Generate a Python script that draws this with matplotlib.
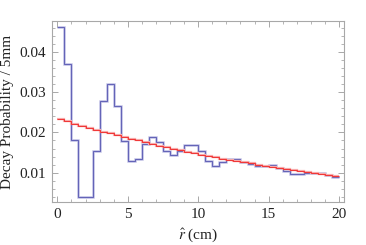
import numpy as np
import matplotlib.pyplot as plt
from matplotlib.ticker import MultipleLocator

# bin edges in cm (5 mm bins)
bin_edges = [i * 0.5 for i in range(41)]

# measured decay probability per bin (blue)
measured = [0.0463, 0.0370, 0.0182, 0.0040, 0.0040, 0.0155, 0.0278, 0.0320,
            0.0266, 0.0178, 0.0130, 0.0134, 0.0171, 0.0189, 0.0175, 0.0153,
            0.0145, 0.0155, 0.0168, 0.0168, 0.0153, 0.0129, 0.0117, 0.0126,
            0.0134, 0.0134, 0.0127, 0.0121, 0.0117, 0.0117, 0.0118, 0.0111,
            0.0105, 0.0097, 0.0097, 0.0100, 0.0100, 0.0100, 0.0094, 0.0089]

# expected decay probability per bin (red)
expected = [0.0234, 0.0229, 0.0222, 0.0217, 0.0212, 0.0207, 0.0202, 0.0198,
            0.0193, 0.0188, 0.0184, 0.0180, 0.0175, 0.0171, 0.0167, 0.0163,
            0.0160, 0.0156, 0.0152, 0.0149, 0.0145, 0.0142, 0.0139, 0.0135,
            0.0132, 0.0129, 0.0126, 0.0123, 0.0120, 0.0117, 0.0115, 0.0112,
            0.0109, 0.0107, 0.0104, 0.0102, 0.0100, 0.0097, 0.0095, 0.0092]

plt.rcParams['font.family'] = ['Liberation Serif', 'DejaVu Serif']
plt.rcParams['mathtext.fontset'] = 'stix'

fig = plt.figure(figsize=(3.66, 2.45), dpi=100)
ax = fig.add_axes([0.142, 0.1755, 0.798, 0.7385])

ax.stairs(measured, bin_edges, baseline=None, color='#c4c4e6', lw=1.8)
ax.stairs(measured, bin_edges, baseline=None, color='#6464b8', lw=0.8)
ax.stairs(expected, bin_edges, baseline=None, color='#f8b0b0', lw=1.6)
ax.stairs(expected, bin_edges, baseline=None, color='#f03838', lw=0.8)

ax.set_xlim(-0.38, 20.35)
ax.set_ylim(0.0027, 0.0477)

ax.xaxis.set_major_locator(MultipleLocator(5))
ax.xaxis.set_minor_locator(MultipleLocator(1))
ax.yaxis.set_major_locator(MultipleLocator(0.01))
ax.yaxis.set_minor_locator(MultipleLocator(0.002))
ax.set_yticks([0.01, 0.02, 0.03, 0.04])
ax.set_yticklabels(['0.01', '0.02', '0.03', '0.04'])

for s in ax.spines.values():
    s.set_color('#a8a8a8')
    s.set_linewidth(0.8)
ax.tick_params(which='both', direction='in', top=True, right=True,
               color='#a8a8a8', labelsize=11, labelcolor='#222222')
ax.tick_params(which='major', length=4, width=0.7, pad=4)
ax.tick_params(which='minor', length=2, width=0.6)

ax.set_xlabel(r'$\hat{r}$ (cm)', fontsize=11, labelpad=4, color='#222222')
ax.set_ylabel('Decay Probability / 5mm', fontsize=11, labelpad=4, color='#222222')

fig.savefig('out.png', dpi=100)
